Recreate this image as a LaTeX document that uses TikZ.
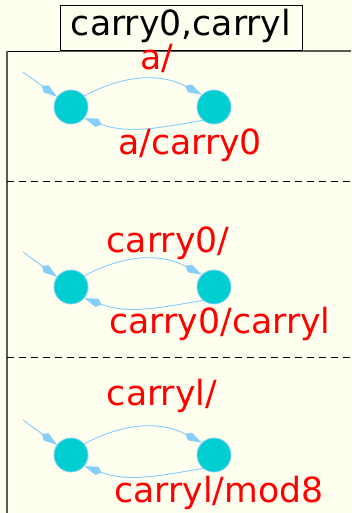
\documentclass[tikz,border=0pt]{standalone}
\usepackage{fontspec}
\setmainfont{DejaVu Sans}
\usetikzlibrary{arrows.meta}
\definecolor{paper}{RGB}{255,255,240}
\definecolor{statefill}{RGB}{0,206,209}
\definecolor{edgeblue}{RGB}{135,206,250}
\definecolor{framegray}{RGB}{90,90,80}

\begin{document}
\begin{tikzpicture}[x=0.75pt, y=-0.75pt,
		state/.style={circle, fill=statefill, draw=edgeblue, line width=0.6pt, minimum size=25.5pt, inner sep=0pt},
		trans/.style={draw=edgeblue, line width=0.7pt, -{Kite[length=14pt, width=6.5pt, inset=4pt]}},
		lbl/.style={text=red, font=\fontsize{26}{30}\selectfont, anchor=base, inner sep=0pt},
		regionline/.style={dash pattern=on 5.5pt off 3.5pt, line width=0.7pt}]
				% Paper and frame:
				\fill[paper] (0,0) rectangle (351,513);
				\useasboundingbox (0,0) rectangle (351,513);
				\node[draw, line width=0.8pt, minimum width=181pt, minimum height=34pt, inner sep=0pt] (T) at (181.5,28){};
				\node[anchor=base, font=\fontsize{26}{30}\selectfont, inner sep=0pt] (Tl) at (181,36){carry0,carryl};
				\draw[line width=0.8pt] (T.south west) -- (351,51);
				\draw[line width=0.8pt] (T.south west) -- (T.south -| 7,0) coordinate (F1);
				\draw[framegray, line width=1.6pt] (F1) -- (7,513);
				\draw[regionline] (7,181) -- (351,181);
				\draw[regionline] (7,357) -- (351,357);
				% Region 1:
				\coordinate (I1) at (23,72);
				\node[state] (A1) at (71,107){};
				\node[state] (B1) at (214,107){};
				\draw[trans] (I1) -- (A1);
				\draw[trans] (A1.40) to[out=28, in=152] (B1.135);
				\draw[trans] (B1.-130) to[out=190, in=-20] (A1.-40);
				\node[lbl] (L1) at (157,70){a/};
				\node[lbl] (M1) at (190,155){a/carry0};
				% Region 2:
				\coordinate (I2) at (23,252);
				\node[state] (A2) at (71,287){};
				\node[state] (B2) at (214,287){};
				\draw[trans] (I2) -- (A2);
				\draw[trans] (A2.40) to[out=28, in=152] (B2.135);
				\draw[trans] (B2.-130) to[out=190, in=-20] (A2.-40);
				\node[lbl] (L2) at (168,252){carry0/};
				\node[lbl] (M2) at (220,333){carry0/carryl};
				% Region 3:
				\coordinate (I3) at (23,420);
				\node[state] (A3) at (71,455){};
				\node[state] (B3) at (214,455){};
				\draw[trans] (I3) -- (A3);
				\draw[trans] (A3.40) to[out=28, in=152] (B3.135);
				\draw[trans] (B3.-130) to[out=190, in=-20] (A3.-40);
				\node[lbl] (L3) at (162,405){carryl/};
				\node[lbl] (M3) at (219,502){carryl/mod8};
			\end{tikzpicture}
\end{document}
